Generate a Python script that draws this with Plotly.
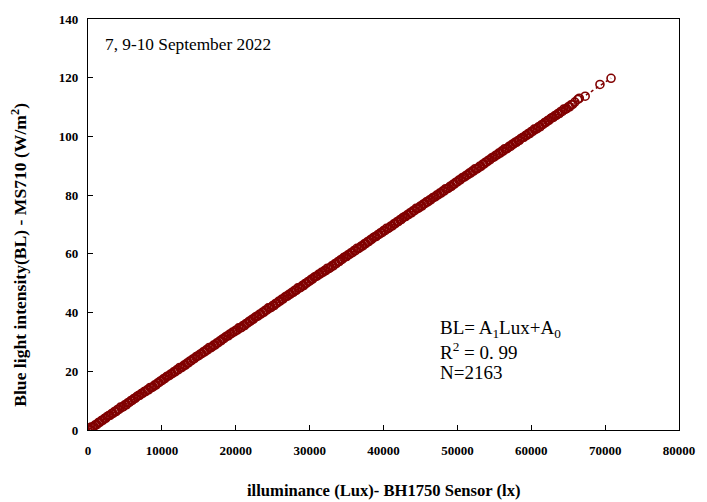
import numpy as np
import plotly.graph_objects as go

# Illuminance from the BH1750 sensor (lx)
LUX = [
    0, 200, 400, 600, 800, 1000, 1200, 1400, 1600, 1800,
    2000, 2200, 2400, 2600, 2800, 3000, 3200, 3400, 3600, 3800,
    4000, 4200, 4400, 4600, 4800, 5000, 5200, 5400, 5600, 5800,
    6000, 6200, 6400, 6600, 6800, 7000, 7200, 7400, 7600, 7800,
    8000, 8200, 8400, 8600, 8800, 9000, 9200, 9400, 9600, 9800,
    10000, 10200, 10400, 10600, 10800, 11000, 11200, 11400, 11600, 11800,
    12000, 12200, 12400, 12600, 12800, 13000, 13200, 13400, 13600, 13800,
    14000, 14200, 14400, 14600, 14800, 15000, 15200, 15400, 15600, 15800,
    16000, 16200, 16400, 16600, 16800, 17000, 17200, 17400, 17600, 17800,
    18000, 18200, 18400, 18600, 18800, 19000, 19200, 19400, 19600, 19800,
    20000, 20200, 20400, 20600, 20800, 21000, 21200, 21400, 21600, 21800,
    22000, 22200, 22400, 22600, 22800, 23000, 23200, 23400, 23600, 23800,
    24000, 24200, 24400, 24600, 24800, 25000, 25200, 25400, 25600, 25800,
    26000, 26200, 26400, 26600, 26800, 27000, 27200, 27400, 27600, 27800,
    28000, 28200, 28400, 28600, 28800, 29000, 29200, 29400, 29600, 29800,
    30000, 30200, 30400, 30600, 30800, 31000, 31200, 31400, 31600, 31800,
    32000, 32200, 32400, 32600, 32800, 33000, 33200, 33400, 33600, 33800,
    34000, 34200, 34400, 34600, 34800, 35000, 35200, 35400, 35600, 35800,
    36000, 36200, 36400, 36600, 36800, 37000, 37200, 37400, 37600, 37800,
    38000, 38200, 38400, 38600, 38800, 39000, 39200, 39400, 39600, 39800,
    40000, 40200, 40400, 40600, 40800, 41000, 41200, 41400, 41600, 41800,
    42000, 42200, 42400, 42600, 42800, 43000, 43200, 43400, 43600, 43800,
    44000, 44200, 44400, 44600, 44800, 45000, 45200, 45400, 45600, 45800,
    46000, 46200, 46400, 46600, 46800, 47000, 47200, 47400, 47600, 47800,
    48000, 48200, 48400, 48600, 48800, 49000, 49200, 49400, 49600, 49800,
    50000, 50200, 50400, 50600, 50800, 51000, 51200, 51400, 51600, 51800,
    52000, 52200, 52400, 52600, 52800, 53000, 53200, 53400, 53600, 53800,
    54000, 54200, 54400, 54600, 54800, 55000, 55200, 55400, 55600, 55800,
    56000, 56200, 56400, 56600, 56800, 57000, 57200, 57400, 57600, 57800,
    58000, 58200, 58400, 58600, 58800, 59000, 59200, 59400, 59600, 59800,
    60000, 60200, 60400, 60600, 60800, 61000, 61200, 61400, 61600, 61800,
    62000, 62200, 62400, 62600, 62800, 63000, 63200, 63400, 63600, 63800,
    64000, 64200, 64400, 64600, 64800, 65000, 65200, 65400, 65600,
    65900, 66300, 66500, 67300, 69300, 70800,
]

# Blue light intensity from the MS710 (W/m2)
BL = [
    0.2, 0.2, 1.0, 0.9, 1.2, 1.8, 1.8, 2.5, 2.6, 3.2,
    3.3, 3.9, 4.0, 4.6, 4.9, 5.0, 5.6, 5.7, 6.3, 6.3,
    7.0, 7.0, 7.8, 7.7, 8.0, 8.6, 8.6, 9.3, 9.4, 10.0,
    10.1, 10.7, 10.8, 11.4, 11.7, 11.8, 12.4, 12.5, 13.1, 13.1,
    13.7, 13.7, 14.5, 14.4, 14.7, 15.3, 15.3, 16.0, 16.1, 16.7,
    16.8, 17.4, 17.5, 18.1, 18.4, 18.5, 19.1, 19.2, 19.8, 19.8,
    20.5, 20.5, 21.3, 21.2, 21.5, 22.1, 22.1, 22.8, 22.9, 23.5,
    23.6, 24.2, 24.3, 24.9, 25.2, 25.3, 25.9, 26.0, 26.6, 26.6,
    27.3, 27.3, 28.1, 28.0, 28.3, 28.9, 28.9, 29.6, 29.7, 30.3,
    30.4, 31.0, 31.1, 31.7, 32.0, 32.1, 32.7, 32.8, 33.4, 33.4,
    34.0, 34.0, 34.8, 34.7, 35.0, 35.6, 35.6, 36.3, 36.4, 37.0,
    37.1, 37.7, 37.8, 38.4, 38.7, 38.8, 39.4, 39.5, 40.1, 40.1,
    40.8, 40.8, 41.6, 41.5, 41.8, 42.4, 42.4, 43.1, 43.2, 43.8,
    43.9, 44.5, 44.6, 45.2, 45.5, 45.6, 46.2, 46.3, 46.9, 46.9,
    47.6, 47.6, 48.4, 48.3, 48.6, 49.2, 49.2, 49.9, 50.0, 50.6,
    50.7, 51.3, 51.4, 52.0, 52.3, 52.4, 53.0, 53.1, 53.7, 53.7,
    54.3, 54.3, 55.1, 55.0, 55.3, 55.9, 55.9, 56.6, 56.7, 57.3,
    57.4, 58.0, 58.1, 58.7, 59.0, 59.1, 59.7, 59.8, 60.4, 60.4,
    61.1, 61.1, 61.9, 61.8, 62.1, 62.7, 62.7, 63.4, 63.5, 64.1,
    64.2, 64.8, 64.9, 65.5, 65.8, 65.9, 66.5, 66.6, 67.2, 67.2,
    67.9, 67.9, 68.7, 68.6, 68.9, 69.5, 69.5, 70.2, 70.3, 70.9,
    71.0, 71.6, 71.7, 72.3, 72.6, 72.7, 73.3, 73.4, 74.0, 74.0,
    74.7, 74.7, 75.5, 75.4, 75.7, 76.3, 76.3, 77.0, 77.1, 77.7,
    77.7, 78.3, 78.4, 79.0, 79.3, 79.4, 80.0, 80.1, 80.7, 80.7,
    81.4, 81.4, 82.2, 82.1, 82.4, 83.0, 83.0, 83.7, 83.8, 84.4,
    84.5, 85.1, 85.2, 85.8, 86.1, 86.2, 86.8, 86.9, 87.5, 87.5,
    88.2, 88.2, 89.0, 88.9, 89.2, 89.8, 89.8, 90.5, 90.6, 91.2,
    91.3, 91.9, 92.0, 92.6, 92.9, 93.0, 93.6, 93.7, 94.3, 94.3,
    95.0, 95.0, 95.8, 95.7, 96.0, 96.6, 96.6, 97.3, 97.4, 98.0,
    98.0, 98.6, 98.7, 99.3, 99.6, 99.7, 100.3, 100.4, 101.0, 101.0,
    101.7, 101.7, 102.5, 102.4, 102.7, 103.3, 103.3, 104.0, 104.1, 104.7,
    104.8, 105.4, 105.5, 106.1, 106.4, 106.5, 107.1, 107.2, 107.8, 107.8,
    108.5, 108.5, 109.3, 109.2, 109.5, 110.1, 110.1, 110.8, 110.9,
    111.7, 112.6, 113.0, 113.7, 117.7, 119.8,
]

X_TICKS = [0, 10000, 20000, 30000, 40000, 50000, 60000, 70000, 80000]
Y_TICKS = [0, 20, 40, 60, 80, 100, 120, 140]

PERIOD = "7, 9-10 September 2022"
N_POINTS = 2163
R2_TEXT = "0. 99"

RED = "#800000"
SERIF = "Liberation Serif, Times New Roman, serif"

# linear fit BL = A1*Lux + A0
a1, a0 = np.polyfit(LUX, BL, 1)
fit_x = np.array([0, max(LUX)])
fit_y = a1 * fit_x + a0

fig = go.Figure()
fig.add_trace(go.Scatter(
    x=fit_x, y=fit_y, mode="lines",
    line=dict(color=RED, width=1.5, dash="dot"),
    showlegend=False, hoverinfo="skip",
))
fig.add_trace(go.Scatter(
    x=LUX, y=BL, mode="markers",
    marker=dict(symbol="circle-open", size=8, color=RED,
                line=dict(width=1.6, color=RED)),
    showlegend=False,
))

axis_common = dict(
    showgrid=False, zeroline=False, showline=True, mirror=True,
    linecolor="black", linewidth=1.3, ticks="inside", ticklen=5,
    tickcolor="black", tickwidth=1,
    tickfont=dict(family=SERIF, size=13, color="black", weight="bold"),
)

fig.update_xaxes(range=[0, 80000], tickvals=X_TICKS, tickformat="d",
                 ticklabelstandoff=8, **axis_common)
fig.update_yaxes(range=[0, 140], tickvals=Y_TICKS,
                 ticklabelstandoff=6, **axis_common)

fig.add_annotation(
    text="illuminance (Lux)- BH1750 Sensor (lx)",
    xref="paper", yref="paper", x=0.5, y=-0.148,
    xanchor="center", yanchor="middle", showarrow=False,
    font=dict(family=SERIF, size=16.6, color="black", weight="bold"),
)
fig.add_annotation(
    text="Blue light intensity(BL) - MS710 (W/m<sup>2</sup>)",
    xref="paper", yref="paper", x=-0.118, y=0.427,
    xanchor="center", yanchor="middle", textangle=-90, showarrow=False,
    font=dict(family=SERIF, size=17.6, color="black", weight="bold"),
)
fig.add_annotation(
    text=PERIOD, xref="paper", yref="paper", x=0.025, y=0.937,
    xanchor="left", yanchor="middle", showarrow=False,
    font=dict(family=SERIF, size=17.3, color="black"),
)

eq_lines = [
    "BL= A<sub>1</sub>Lux+A<sub>0</sub>",
    "R<sup>2</sup> = " + R2_TEXT,
    "N=" + str(N_POINTS),
]
for i, line in enumerate(eq_lines):
    fig.add_annotation(
        text=line, xref="paper", yref="paper",
        x=0.592, y=0.246 - i * 0.053,
        xanchor="left", yanchor="middle", showarrow=False,
        font=dict(family=SERIF, size=19, color="black"),
    )

fig.update_layout(
    width=707, height=502,
    margin=dict(l=88, r=19, t=15, b=72),
    plot_bgcolor="white", paper_bgcolor="white",
)

fig.write_html("out.html")
